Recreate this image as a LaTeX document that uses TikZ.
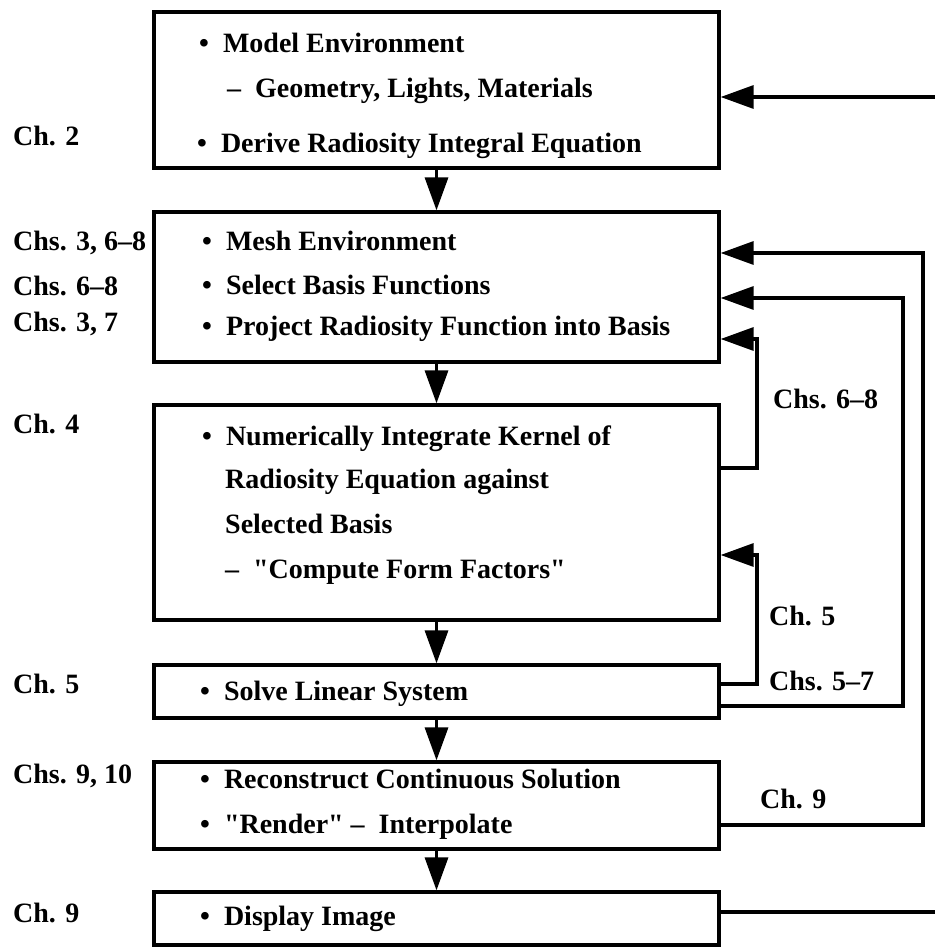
\documentclass[tikz,border=0pt]{standalone}
\usepackage{fontspec}
\setmainfont{Liberation Serif}
\usepackage{tikz}
\usetikzlibrary{arrows.meta,positioning,calc}
\newcommand{\bul}{\textbullet\hspace{0.5em}}
\newcommand{\dsh}{--\hspace{0.5em}}
\newcommand{\qt}{\textquotedbl}

\begin{document}
\begin{tikzpicture}[x=1pt,y=-1pt,
  box/.style={draw,rectangle,line width=3.3pt,minimum width=565pt,inner sep=0pt},
  txt/.style={anchor=base west,inner sep=0pt,font=\fontsize{28}{34}\selectfont\bfseries},
  arr/.style={line width=3.3pt,-{Triangle[length=33pt,width=23pt]}}]
\useasboundingbox (0,0) rectangle (934,947);
% boxes
\node[box,minimum height=156pt](model) at (436.5,90){};
\node[box,minimum height=150pt](mesh) at (436.5,287){};
\node[box,minimum height=215pt](integrate) at (436.5,512.5){};
\node[box,minimum height=53pt](solve) at (436.5,691.5){};
\node[box,minimum height=87pt](render) at (436.5,805.5){};
\node[box,minimum height=53pt](display) at (436.5,918.5){};
% box texts
\node[txt](model1) at (199,53){\bul Model Environment};
\node[txt](model2) at (227,98){\dsh Geometry, Lights, Materials};
\node[txt](model3) at (197,152){\bul Derive Radiosity Integral Equation};
\node[txt](mesh1) at (202,250){\bul Mesh Environment};
\node[txt](mesh2) at (202,294){\bul Select Basis Functions};
\node[txt](mesh3) at (202,335){\bul Project Radiosity Function into Basis};
\node[txt](integrate1) at (202,445){\bul Numerically Integrate Kernel of};
\node[txt](integrate2) at (225,488){Radiosity Equation against};
\node[txt](integrate3) at (225,533){Selected Basis};
\node[txt](integrate4) at (225,578){\dsh \qt Compute Form Factors\qt};
\node[txt](solve1) at (200,700){\bul Solve Linear System};
\node[txt](render1) at (200,788){\bul Reconstruct Continuous Solution};
\node[txt](render2) at (200,833){\bul \qt Render\qt\ \dsh Interpolate};
\node[txt](display1) at (200,925){\bul Display Image};
% chapter labels, left
\node[txt](ch2) at (13,145){Ch. 2};
\node[txt](ch368) at (13,250){Chs. 3, 6--8};
\node[txt](ch68) at (13,295){Chs. 6--8};
\node[txt](ch37) at (13,331){Chs. 3, 7};
\node[txt](ch4) at (13,433){Ch. 4};
\node[txt](ch5) at (13,693){Ch. 5};
\node[txt](ch910) at (13,783){Chs. 9, 10};
\node[txt](ch9) at (13,922){Ch. 9};
% chapter labels, right
\node[txt](fb68) at (773,408){Chs. 6--8};
\node[txt](fb5) at (769,625){Ch. 5};
\node[txt](fb57) at (769,690){Chs. 5--7};
\node[txt](fb9) at (760,808){Ch. 9};
% main flow
\draw[arr](model)--(mesh); \draw[arr](mesh)--(integrate); \draw[arr](integrate)--(solve);
\draw[arr](solve)--(render); \draw[arr](render)--(display);
% feedback loops
\coordinate(c68) at (757,339); \coordinate(c5) at (757,555);
\coordinate(c57) at (903,298); \coordinate(c9) at (923,253); \coordinate(cd) at (945,97);
\draw[arr]([yshift=44.5pt]integrate.east)-|(c68)--(mesh.east|-c68);
\draw[arr]([yshift=7.5pt]solve.east)-|(c5)--(integrate.east|-c5);
\draw[arr]([yshift=-14.5pt]solve.east)-|(c57)--(mesh.east|-c57);
\draw[arr]([yshift=-19.5pt]render.east)-|(c9)--(mesh.east|-c9);
\draw[arr]([yshift=6.5pt]display.east)-|(cd)--(model.east|-cd);
\end{tikzpicture}
\end{document}
